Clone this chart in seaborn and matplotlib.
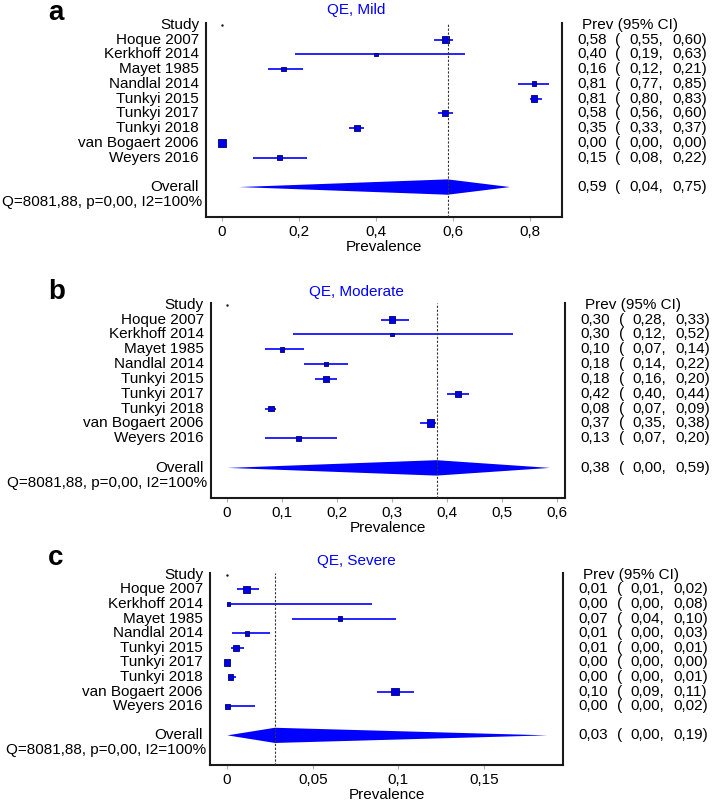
import numpy as np
import pandas as pd
import matplotlib
matplotlib.use('Agg')
import matplotlib.pyplot as plt
import matplotlib.transforms as mtransforms
import seaborn as sns

# Study list and relative weights (%) shared by all three panels
studies = ['Hoque 2007', 'Kerkhoff 2014', 'Mayet 1985', 'Nandlal 2014', 'Tunkyi 2015',
           'Tunkyi 2017', 'Tunkyi 2018', 'van Bogaert 2006', 'Weyers 2016']
weights = [15.6, 3.3, 7.5, 7.5, 13.4, 13.4, 11.2, 20.8, 7.5]
het_text = 'Q=8081,88, p=0,00, I2=100%'

# a - Mild
mild_est = [0.58, 0.40, 0.16, 0.81, 0.81, 0.58, 0.35, 0.00, 0.15]
mild_lo = [0.55, 0.19, 0.12, 0.77, 0.80, 0.56, 0.33, 0.00, 0.08]
mild_hi = [0.60, 0.63, 0.21, 0.85, 0.83, 0.60, 0.37, 0.00, 0.22]
mild_overall = [0.586, 0.044, 0.748]

# b - Moderate
mod_est = [0.30, 0.30, 0.10, 0.18, 0.18, 0.42, 0.08, 0.37, 0.13]
mod_lo = [0.28, 0.12, 0.07, 0.14, 0.16, 0.40, 0.07, 0.35, 0.07]
mod_hi = [0.33, 0.52, 0.14, 0.22, 0.20, 0.44, 0.09, 0.38, 0.20]
mod_overall = [0.381, 0.001, 0.587]

# c - Severe
sev_est = [0.0115, 0.001, 0.066, 0.0117, 0.0053, 0.0002, 0.0021, 0.098, 0.0003]
sev_lo = [0.006, 0.0, 0.0378, 0.0031, 0.0023, 0.0, 0.0004, 0.0877, 0.0]
sev_hi = [0.0189, 0.0848, 0.0985, 0.0252, 0.0097, 0.0012, 0.0053, 0.1088, 0.0163]
sev_overall = [0.028, 0.0003, 0.187]

panels = [
    dict(letter='a', title='QE, Mild', est=mild_est, lo=mild_lo, hi=mild_hi, overall=mild_overall,
         ticks=[0, 0.2, 0.4, 0.6, 0.8], xlim=(-0.0416, 0.883), box=(206, 23, 562, 217),
         letter_y=20, title_y=10),
    dict(letter='b', title='QE, Moderate', est=mod_est, lo=mod_lo, hi=mod_hi, overall=mod_overall,
         ticks=[0, 0.1, 0.2, 0.3, 0.4, 0.5, 0.6], xlim=(-0.0296, 0.6145), box=(210.7, 303, 565, 498),
         letter_y=299, title_y=292),
    dict(letter='c', title='QE, Severe', est=sev_est, lo=sev_lo, hi=sev_hi, overall=sev_overall,
         ticks=[0, 0.05, 0.1, 0.15], xlim=(-0.0099, 0.196), box=(210, 573, 563, 765),
         letter_y=565, title_y=561),
]

sns.set_theme(style='white')
plt.rcParams['font.family'] = ['Liberation Sans', 'DejaVu Sans']
plt.rcParams['text.color'] = 'black'
plt.rcParams['axes.labelcolor'] = 'black'

W, H = 712, 802
fig = plt.figure(figsize=(W / 100, H / 100), dpi=100)

blue = '#0000ff'
fs = 11


def fmt(v):
    return f'{v:.2f}'.replace('.', ',')


for p in panels:
    x0, y0, x1, y1 = p['box']
    wpx, hpx = x1 - x0, y1 - y0
    ax = fig.add_axes([x0 / W, 1 - y1 / H, wpx / W, hpx / H])

    rows = np.arange(1, len(studies) + 1)
    df = pd.DataFrame({'study': studies, 'est': p['est'], 'lo': p['lo'], 'hi': p['hi'],
                       'weight': weights, 'row': rows})

    # confidence intervals
    ax.hlines(df['row'], df['lo'], df['hi'], color=blue, lw=1.2, zorder=2)
    # study estimates, square area ~ weight
    sns.scatterplot(data=df, x='est', y='row', size='weight', sizes=(0, 32), size_norm=(0, 20.8),
                    marker='s', color='#0000e6', edgecolor='#000070', linewidth=0.6,
                    legend=False, ax=ax, zorder=3)

    # pooled estimate
    oe, olo, ohi = p['overall']
    orow = len(studies) + 2
    ax.fill([olo, oe, ohi, oe], [orow, orow - 0.52, orow, orow + 0.52], color=blue, lw=0, zorder=2)
    ax.axvline(oe, color='#333333', lw=0.8, ls=(0, (2, 1.5)), zorder=4)
    ax.plot([0], [0], marker='.', ms=1.5, color='k')

    ax.set_xlim(*p['xlim'])
    ax.set_ylim(13.03, -0.12)
    ax.set_yticks([])
    ax.set_xticks(p['ticks'])
    ax.set_xticklabels([f'{t:g}'.replace('.', ',') for t in p['ticks']], fontsize=fs)
    ax.tick_params(axis='x', bottom=True, length=3, width=0.8, color='#b0b0b0', pad=3,
                   labelcolor='black')
    ax.set_xlabel('Prevalence', fontsize=fs)
    ax.xaxis.set_label_coords(0.5, -23 / hpx)
    ax.set_ylabel('')
    for side in ['left', 'bottom', 'right']:
        ax.spines[side].set_visible(True)
        ax.spines[side].set_color('#1a1a1a')
        ax.spines[side].set_linewidth(1.5)
    ax.spines['top'].set_visible(False)

    tr = mtransforms.blended_transform_factory(ax.transAxes, ax.transData)
    lx = -7 / wpx
    ax.text(lx, 0, 'Study', transform=tr, ha='right', va='center', fontsize=fs)
    for s, r in zip(studies, rows):
        ax.text(lx, r, s, transform=tr, ha='right', va='center', fontsize=fs)
    ax.text(lx, orow, 'Overall', transform=tr, ha='right', va='center', fontsize=fs)
    ax.text(-4 / wpx, orow + 1, het_text, transform=tr, ha='right', va='center', fontsize=fs)

    # right-hand table
    tx = 1 + 15.5 / wpx
    ax.text(tx + 4.5 / wpx, 0, 'Prev (95% CI)', transform=tr, ha='left', va='center', fontsize=fs)
    table_rows = list(zip(p['est'], p['lo'], p['hi'], rows)) + [(oe, olo, ohi, orow)]
    for e, l, h, r in table_rows:
        ax.text(tx, r, fmt(e), transform=tr, ha='left', va='center', fontsize=fs)
        ax.text(tx + 38 / wpx, r, '(', transform=tr, ha='left', va='center', fontsize=fs)
        ax.text(tx + 52 / wpx, r, fmt(l) + ',', transform=tr, ha='left', va='center', fontsize=fs)
        ax.text(tx + 94.5 / wpx, r, fmt(h) + ')', transform=tr, ha='left', va='center', fontsize=fs)

    fig.text(48 / W, 1 - p['letter_y'] / H, p['letter'], fontsize=20, fontweight='bold',
             ha='left', va='baseline', color='black')
    fig.text(0.5, 1 - p['title_y'] / H, p['title'], color=blue, fontsize=fs,
             ha='center', va='center')

fig.savefig('out.png', dpi=100)
